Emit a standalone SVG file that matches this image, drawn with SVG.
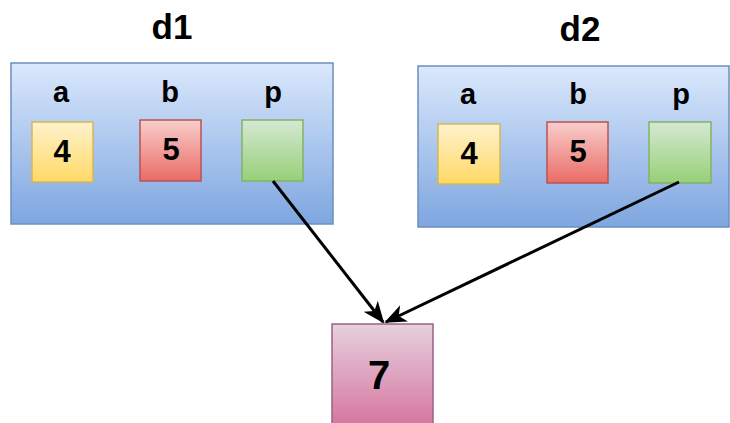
<svg xmlns="http://www.w3.org/2000/svg" width="730" height="423" viewBox="0 0 730 423">
  <defs>
    <linearGradient id="gBlue" x1="0" y1="0" x2="0" y2="1"><stop offset="0" stop-color="#dae8fc"/><stop offset="1" stop-color="#7ea6e0"/></linearGradient>
    <linearGradient id="gYellow" x1="0" y1="0" x2="0" y2="1"><stop offset="0" stop-color="#fff2cc"/><stop offset="1" stop-color="#ffd966"/></linearGradient>
    <linearGradient id="gRed" x1="0" y1="0" x2="0" y2="1"><stop offset="0" stop-color="#f8cecc"/><stop offset="1" stop-color="#ea6b66"/></linearGradient>
    <linearGradient id="gGreen" x1="0" y1="0" x2="0" y2="1"><stop offset="0" stop-color="#d5e8d4"/><stop offset="1" stop-color="#97d077"/></linearGradient>
    <linearGradient id="gPink" x1="0" y1="0" x2="0" y2="1"><stop offset="0" stop-color="#e6d0de"/><stop offset="1" stop-color="#d5739d"/></linearGradient>
    <marker id="arrow" viewBox="0 0 22 20" refX="20" refY="10" markerWidth="22" markerHeight="20" markerUnits="userSpaceOnUse" orient="auto">
      <path d="M0,1 L22,10 L0,19 L6,10 Z" fill="#000"/>
    </marker>
  </defs>
  <style>
    text { font-family: "Liberation Sans", Arial, sans-serif; font-weight: bold; fill: #000; text-anchor: middle; }
    .title { font-size: 35px; }
    .lbl { font-size: 29px; }
    .num { font-size: 31px; }
    .big { font-size: 40px; }
    .frame { fill: url(#gBlue); stroke: #6c8ebf; stroke-width: 1.5; }
    .yel { fill: url(#gYellow); stroke: #d6b656; stroke-width: 1.5; }
    .red { fill: url(#gRed); stroke: #b85450; stroke-width: 1.5; }
    .grn { fill: url(#gGreen); stroke: #82b366; stroke-width: 1.5; }
    .pnk { fill: url(#gPink); stroke: #996185; stroke-width: 1.5; }
    .edge { stroke: #000; stroke-width: 3; fill: none; marker-end: url(#arrow); }
  </style>

  <g id="d1">
    <text class="title" x="172" y="39">d1</text>
    <rect class="frame" x="11" y="63" width="322" height="161"/>
    <text class="lbl" x="61" y="102">a</text>
    <text class="lbl" x="170" y="102">b</text>
    <text class="lbl" x="273" y="102">p</text>
    <rect class="yel" x="32" y="122" width="61" height="60"/>
    <text class="num" x="62" y="162">4</text>
    <rect class="red" x="140" y="120" width="61" height="61"/>
    <text class="num" x="171" y="160">5</text>
    <rect class="grn" x="242" y="120" width="61" height="61"/>
  </g>

  <g id="d2">
    <text class="title" x="580" y="41">d2</text>
    <rect class="frame" x="418" y="66" width="311" height="161"/>
    <text class="lbl" x="468" y="104">a</text>
    <text class="lbl" x="578" y="104">b</text>
    <text class="lbl" x="681" y="104">p</text>
    <rect class="yel" x="438" y="124" width="62" height="60"/>
    <text class="num" x="469" y="164">4</text>
    <rect class="red" x="547" y="122" width="61" height="61"/>
    <text class="num" x="578" y="162">5</text>
    <rect class="grn" x="649" y="122" width="62" height="61"/>
  </g>

  <g id="value7">
    <rect class="pnk" x="332" y="324" width="101" height="105"/>
    <text class="big" x="379" y="389">7</text>
  </g>

  <g id="connectors">
    <line class="edge" x1="273" y1="181" x2="383" y2="322"/>
    <line class="edge" x1="679" y1="182" x2="386" y2="322"/>
  </g>
</svg>
